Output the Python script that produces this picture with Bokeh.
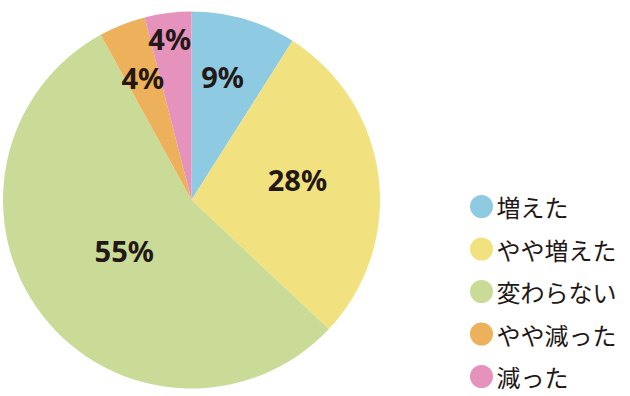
import math
from bokeh.plotting import figure
from bokeh.models import ColumnDataSource, Range1d
from bokeh.core.properties import value
from bokeh.embed import file_html
from bokeh.resources import INLINE

categories = ["増えた", "やや増えた", "変わらない", "やや減った", "減った"]
percents = [9, 28, 55, 4, 4]
labels = ["9%", "28%", "55%", "4%", "4%"]
colors = ["#8fcae3", "#f2e27f", "#cadb98", "#eeb15b", "#e592bd"]

# layout (pixels of the figure)
W, H = 628, 394
cx, cy, R = 191, 194.5, 188.5
label_r = [127, 108, 84, 132, 163]
label_da = [2, 4, -1, 0, 0.5]  # small angular nudges, degrees

p = figure(width=W, height=H, output_backend="svg", toolbar_location=None,
           x_range=Range1d(0, W), y_range=Range1d(0, H), min_border=0)
p.axis.visible = False
p.grid.visible = False
p.outline_line_color = None
p.background_fill_color = "white"

total = sum(percents)
starts, ends, lx, ly = [], [], [], []
a = 90.0
for i, v in enumerate(percents):
    sweep = v / total * 360.0
    s = a - sweep
    starts.append(math.radians(s))
    ends.append(math.radians(a))
    mid = math.radians((s + a) / 2 + label_da[i])
    lx.append(cx + label_r[i] * math.cos(mid))
    ly.append(cy + label_r[i] * math.sin(mid))
    a = s

src = ColumnDataSource(dict(start=starts, end=ends, color=colors,
                            lx=lx, ly=ly, label=labels))
p.wedge(x=cx, y=cy, radius=R, start_angle="start", end_angle="end",
        fill_color="color", line_color=None, source=src)
p.text(x="lx", y="ly", text="label", source=src, text_align="center",
       text_baseline="middle", text_font=value("Noto Sans"),
       text_font_style="bold", text_font_size="29px", text_color="#231815")

# legend
leg_x = 481
leg_y0 = 188
leg_dy = 42.5
ly2 = [leg_y0 - i * leg_dy for i in range(len(categories))]
lsrc = ColumnDataSource(dict(x=[leg_x] * len(categories), y=ly2,
                             tx=[leg_x + 15] * len(categories),
                             color=colors, cat=categories))
p.scatter(x="x", y="y", size=23, fill_color="color", line_color=None, source=lsrc)
p.text(x="tx", y="y", text="cat", source=lsrc, text_align="left",
       text_baseline="middle", text_font=value("Noto Sans CJK JP"),
       text_font_size="24px", text_color="#231815")

open("out.html", "w").write(file_html(p, INLINE))
